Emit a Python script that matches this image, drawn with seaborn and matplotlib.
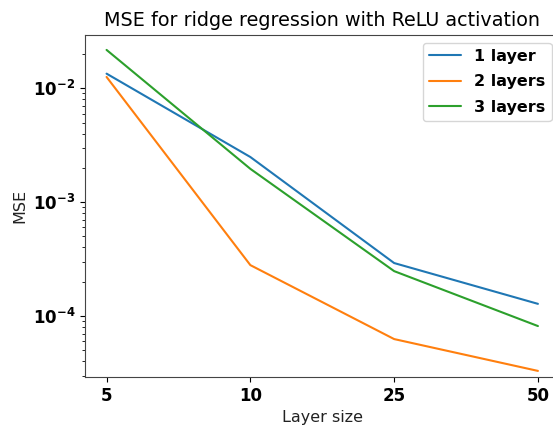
import numpy as np
import pandas as pd
import matplotlib
matplotlib.use("Agg")
import matplotlib.pyplot as plt
import seaborn as sns

layer_sizes = ["5", "10", "25", "50"]
mse_1_layer = [0.01343, 0.00249, 2.92e-4, 1.28e-4]
mse_2_layers = [0.01256, 2.80e-4, 6.28e-5, 3.30e-5]
mse_3_layers = [0.0217, 1.96e-3, 2.48e-4, 8.17e-5]
series_names = ["1 layer", "2 layers", "3 layers"]

df = pd.DataFrame({
    "Layer size": layer_sizes * 3,
    "MSE": mse_1_layer + mse_2_layers + mse_3_layers,
    "model": [n for n in series_names for _ in layer_sizes],
})

sns.set_style("ticks", rc={
    "text.color": "black", "axes.labelcolor": "#222222",
    "xtick.color": "black", "ytick.color": "black",
    "axes.edgecolor": "#444444",
})
plt.rcParams["font.family"] = ["DejaVu Sans"]

fig = plt.figure(figsize=(5.53, 4.36), dpi=100)
ax = fig.add_axes([85 / 553, 59 / 436, 474.5 / 553, 342.3 / 436])

sns.lineplot(data=df, x="Layer size", y="MSE", hue="model",
             palette=["#1f77b4", "#ff7f0e", "#2ca02c"], ax=ax, sort=False,
             linewidth=1.5)

ax.set_yscale("log")
ax.set_ylim(10 ** -4.535, 10 ** -1.530)
ax.set_xlim(-0.15, 3.15)
ax.set_title("MSE for ridge regression with ReLU activation", fontsize=13.8)
ax.set_xlabel("Layer size", fontsize=11.5)
ax.set_ylabel("MSE", fontsize=11.5)
for lab in ax.get_xticklabels() + ax.get_yticklabels():
    lab.set_fontweight("bold")
    lab.set_fontsize(12)
ax.tick_params(which="minor", length=2.5, width=0.6, color="black")
for s in ax.spines.values():
    s.set_visible(True)

leg = ax.legend(loc="upper right", prop={"weight": "bold", "size": 11.5},
                labelspacing=0.65)
leg.set_title(None)

fig.savefig("out.png", dpi=100)
